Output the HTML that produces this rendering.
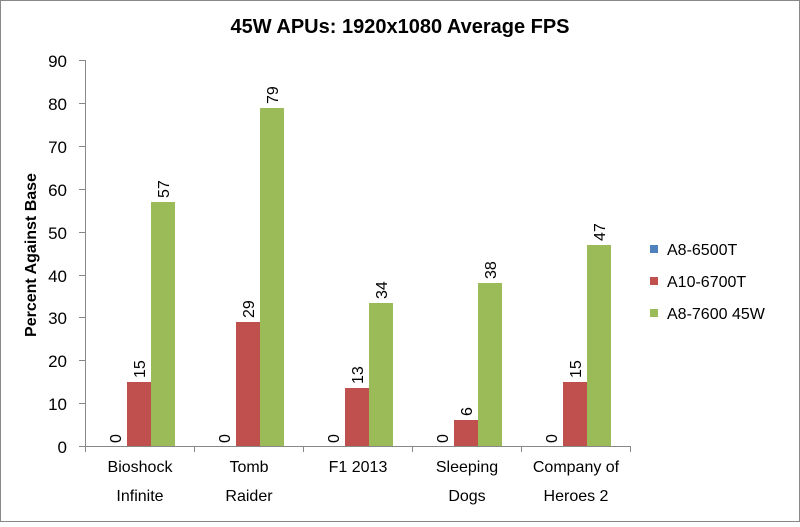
<!DOCTYPE html>
<html><head><style>
body{margin:0;background:#fff}
svg text{font-family:"Liberation Sans",sans-serif;fill:#000}
</style></head><body>
<svg width="800" height="522" viewBox="0 0 800 522">
<rect x="0.5" y="0.5" width="799" height="521" fill="#fff" stroke="#888"/>
<text x="400" y="33" text-anchor="middle" font-size="20" font-weight="bold">45W APUs: 1920x1080 Average FPS</text>
<text transform="translate(36,255) rotate(-90)" text-anchor="middle" font-size="16" font-weight="bold">Percent Against Base</text>
<g stroke="#888" stroke-width="1">
<line x1="85.5" y1="60" x2="85.5" y2="446"/>
<line x1="85" y1="446.5" x2="631" y2="446.5"/>
<line x1="79" y1="60.5" x2="85" y2="60.5"/><line x1="79" y1="103.5" x2="85" y2="103.5"/><line x1="79" y1="146.5" x2="85" y2="146.5"/><line x1="79" y1="189.5" x2="85" y2="189.5"/><line x1="79" y1="232.5" x2="85" y2="232.5"/><line x1="79" y1="275.5" x2="85" y2="275.5"/><line x1="79" y1="317.5" x2="85" y2="317.5"/><line x1="79" y1="360.5" x2="85" y2="360.5"/><line x1="79" y1="403.5" x2="85" y2="403.5"/><line x1="79" y1="446.5" x2="85" y2="446.5"/>
<line x1="85.5" y1="446" x2="85.5" y2="452"/><line x1="194.5" y1="446" x2="194.5" y2="452"/><line x1="303.5" y1="446" x2="303.5" y2="452"/><line x1="412.5" y1="446" x2="412.5" y2="452"/><line x1="521.5" y1="446" x2="521.5" y2="452"/><line x1="630.5" y1="446" x2="630.5" y2="452"/>
</g>
<g font-size="17" text-anchor="end">
<text x="67" y="67">90</text><text x="67" y="110">80</text><text x="67" y="153">70</text><text x="67" y="196">60</text><text x="67" y="239">50</text><text x="67" y="282">40</text><text x="67" y="324">30</text><text x="67" y="367">20</text><text x="67" y="410">10</text><text x="67" y="453">0</text>
</g>
<g fill="#C0504D">
<rect x="127" y="382" width="24" height="64"/><rect x="236" y="322" width="24" height="124"/><rect x="345" y="388" width="24" height="58"/><rect x="454" y="420" width="24" height="26"/><rect x="563" y="382" width="24" height="64"/>
</g>
<g fill="#9BBB59">
<rect x="151" y="202" width="24" height="244"/><rect x="260" y="108" width="24" height="338"/><rect x="369" y="303" width="24" height="143"/><rect x="478" y="283" width="24" height="163"/><rect x="587" y="245" width="24" height="201"/>
</g>
<g font-size="16">
<text transform="translate(121,443) rotate(-90)">0</text>
<text transform="translate(145,378) rotate(-90)">15</text>
<text transform="translate(169,198) rotate(-90)">57</text>
<text transform="translate(230,443) rotate(-90)">0</text>
<text transform="translate(254,318) rotate(-90)">29</text>
<text transform="translate(278,104) rotate(-90)">79</text>
<text transform="translate(339,443) rotate(-90)">0</text>
<text transform="translate(363,384) rotate(-90)">13</text>
<text transform="translate(387,299) rotate(-90)">34</text>
<text transform="translate(448,443) rotate(-90)">0</text>
<text transform="translate(472,416) rotate(-90)">6</text>
<text transform="translate(496,279) rotate(-90)">38</text>
<text transform="translate(557,443) rotate(-90)">0</text>
<text transform="translate(581,378) rotate(-90)">15</text>
<text transform="translate(605,241) rotate(-90)">47</text>
</g>
<g font-size="16" text-anchor="middle">
<text x="140" y="472">Bioshock</text><text x="140" y="501">Infinite</text>
<text x="249" y="472">Tomb</text><text x="249" y="501">Raider</text>
<text x="358" y="472">F1 2013</text>
<text x="467" y="472">Sleeping</text><text x="467" y="501">Dogs</text>
<text x="576" y="472">Company of</text><text x="576" y="501">Heroes 2</text>
</g>
<rect x="650" y="245" width="8" height="8" fill="#4F81BD"/>
<rect x="650" y="277" width="8" height="8" fill="#C0504D"/>
<rect x="650" y="309" width="8" height="8" fill="#9BBB59"/>
<g font-size="16">
<text x="667" y="255">A8-6500T</text>
<text x="667" y="287">A10-6700T</text>
<text x="667" y="319">A8-7600 45W</text>
</g>
</svg>
</body></html>
